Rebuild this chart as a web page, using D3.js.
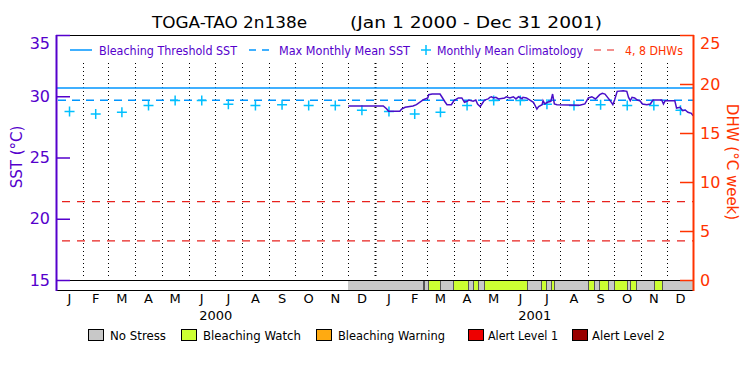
<!DOCTYPE html>
<html>
<head>
<meta charset="utf-8">
<script src="https://cdn.jsdelivr.net/npm/d3@7"></script>
<style>
body { margin: 0; background: #fff; }
svg text { font-family: "DejaVu Sans", sans-serif; }
</style>
</head>
<body>
<svg id="chart" width="750" height="375"></svg>
<script>
// values
const monthLetters = ["J","F","M","A","M","J","J","A","S","O","N","D"];
const yearLabels = ["2000", "2001"];
const climatology = [28.75, 28.55, 28.7, 29.25, 29.65, 29.65, 29.35, 29.25, 29.3, 29.25, 29.25, 28.85];
const mmmSST = 29.67;
const thresholdSST = 30.67;
const dhwLevels = [4, 8];

const sstDates = ["2000-12-01","2001-01-10","2001-01-14","2001-01-16","2001-01-29","2001-01-31","2001-02-04",
  "2001-02-13","2001-02-17","2001-02-25","2001-03-02","2001-03-03","2001-03-07","2001-03-16","2001-03-18",
  "2001-03-22","2001-03-24","2001-03-29","2001-04-01","2001-04-06","2001-04-10","2001-04-13","2001-04-16",
  "2001-04-18","2001-04-23","2001-04-26","2001-04-28","2001-05-01","2001-05-03","2001-05-06","2001-05-10",
  "2001-05-12","2001-05-14","2001-05-16","2001-05-19","2001-05-22","2001-05-29","2001-05-31","2001-06-04",
  "2001-06-08","2001-06-11","2001-06-14","2001-06-18","2001-06-19","2001-06-23","2001-07-01","2001-07-05",
  "2001-07-07","2001-07-11","2001-07-12","2001-07-14","2001-07-17","2001-07-21","2001-07-23","2001-07-25",
  "2001-07-28","2001-08-23","2001-08-29","2001-09-02","2001-09-06","2001-09-10","2001-09-12","2001-09-15",
  "2001-09-18","2001-09-21","2001-09-24","2001-09-27","2001-09-30","2001-10-02","2001-10-05","2001-10-12",
  "2001-10-16","2001-10-18","2001-10-20","2001-10-22","2001-10-25","2001-10-28","2001-10-31","2001-11-03",
  "2001-11-08","2001-11-12","2001-11-15","2001-11-25","2001-11-27","2001-11-29","2001-12-10","2001-12-12",
  "2001-12-16","2001-12-19","2001-12-22","2001-12-25","2001-12-29","2001-12-31"];
const sstValues = [29.20, 29.20, 28.96, 28.77, 28.77, 28.96, 29.10,
  29.20, 29.31, 29.72, 29.86, 30.13, 30.18, 30.18, 29.96,
  29.51, 29.31, 29.31, 29.64, 29.86, 29.86, 29.51, 29.59,
  29.69, 29.59, 29.69, 29.37, 29.15, 29.37, 29.69, 29.78,
  29.91, 29.96, 29.86, 29.91, 29.78, 29.86, 29.96, 29.86,
  29.96, 29.78, 29.96, 29.80, 29.91, 29.86, 29.51, 28.96,
  29.15, 29.31, 29.64, 29.37, 29.51, 29.59, 30.18, 29.37,
  29.31, 29.26, 29.37, 29.86, 29.96, 29.78, 29.91, 30.13,
  30.24, 30.18, 29.91, 29.64, 29.31, 29.69, 30.40, 30.45,
  30.40, 29.91, 29.64, 29.91, 29.86, 29.69, 29.64, 29.37,
  29.31, 29.37, 29.69, 29.69, 29.37, 29.64, 29.64, 29.04,
  29.10, 28.82, 28.88, 28.69, 28.61, 28.41];

const stressBreaks = ["2000-12-01","2001-02-24","2001-02-26","2001-03-02","2001-03-16","2001-03-31",
  "2001-04-17","2001-04-23","2001-04-28","2001-05-05","2001-06-24","2001-07-10","2001-07-15","2001-07-21",
  "2001-07-25","2001-09-02","2001-09-08","2001-09-14","2001-09-24","2001-10-01","2001-10-16","2001-10-20",
  "2001-10-26","2001-11-16","2001-11-25","2002-01-01"];
const stressLevels = [0,1,0,1,0,1,0,1,0,1,0,1,0,1,0,1,0,1,0,1,0,1,0,1,0];
const stressNames = ["No Stress", "Bleaching Watch", "Bleaching Warning", "Alert Level 1", "Alert Level 2"];

const purple = "#5500cc", red = "#ff3300", blue = "#0096ff", cyan = "#00c0ff";
const stressColor = d3.scaleOrdinal().domain([0,1,2,3,4])
    .range(["#c8c8c8", "#ccff33", "#ffaa11", "#ee0000", "#990000"]);

const parse = d3.timeParse("%Y-%m-%d");
const svg = d3.select("#chart");

const x = d3.scaleTime().domain([new Date(2000,0,1), new Date(2002,0,1)]).range([56, 694]);
const ySST = d3.scaleLinear().domain([15, 35]).range([280, 35]);
const yDHW = d3.scaleLinear().domain([0, 25]).range([280, 35]);

// title
svg.append("text").attr("x", 152).attr("y", 28).attr("font-size", 16)
    .attr("textLength", 155).attr("lengthAdjust", "spacingAndGlyphs").text("TOGA-TAO 2n138e");
svg.append("text").attr("x", 350).attr("y", 28).attr("font-size", 16)
    .attr("textLength", 252).attr("lengthAdjust", "spacingAndGlyphs").text("(Jan 1 2000 - Dec 31 2001)");

// stress bar
const segs = stressLevels.map((lv, i) => ({ s: parse(stressBreaks[i]), e: parse(stressBreaks[i+1]), lv }));
svg.append("g").selectAll("rect").data(segs).join("rect")
    .attr("x", d => x(d.s)).attr("width", d => x(d.e) - x(d.s))
    .attr("y", 280).attr("height", 10)
    .attr("fill", d => stressColor(d.lv))
    .attr("shape-rendering", "crispEdges");
svg.append("g").selectAll("line").data(stressBreaks.slice(1, -1)).join("line")
    .attr("x1", d => Math.round(x(parse(d))) + 0.5).attr("x2", d => Math.round(x(parse(d))) + 0.5)
    .attr("y1", 280).attr("y2", 290).attr("stroke", "#555").attr("stroke-width", 1);

// month dividers
const monthStarts = d3.timeMonth.range(new Date(2000,1,1), new Date(2002,0,1));
svg.append("g").selectAll("line").data(monthStarts).join("line")
    .attr("x1", d => Math.round(x(d)) + 0.5).attr("x2", d => Math.round(x(d)) + 0.5)
    .attr("y1", 63).attr("y2", 278)
    .attr("stroke", "#000")
    .attr("stroke-width", d => d.getMonth() === 0 ? 2 : 1)
    .attr("stroke-dasharray", "1,3");

// frame lines
[35, 280, 290].forEach(yy => {
  svg.append("line").attr("x1", 56).attr("x2", 694).attr("y1", yy + 0.5).attr("y2", yy + 0.5)
      .attr("stroke", "#000").attr("stroke-width", 1.2);
});

// reference lines
svg.append("line").attr("x1", 56).attr("x2", 694)
    .attr("y1", ySST(thresholdSST)).attr("y2", ySST(thresholdSST))
    .attr("stroke", blue).attr("stroke-width", 1.5);
svg.append("line").attr("x1", 58).attr("x2", 694)
    .attr("y1", ySST(mmmSST)).attr("y2", ySST(mmmSST))
    .attr("stroke", blue).attr("stroke-width", 1.5).attr("stroke-dasharray", "8,6");
svg.append("g").selectAll("line").data(dhwLevels).join("line")
    .attr("x1", 62).attr("x2", 694)
    .attr("y1", d => yDHW(d)).attr("y2", d => yDHW(d))
    .attr("stroke", "#e8221e").attr("stroke-width", 1.2).attr("stroke-dasharray", "8,7");

// climatology crosses, both years
const climPts = [];
[2000, 2001].forEach(yr => climatology.forEach((v, m) => {
  const s = new Date(yr, m, 1), e = new Date(yr, m + 1, 1);
  climPts.push({ date: new Date((+s + +e) / 2), v });
}));
const cross = svg.append("g").attr("stroke", cyan).attr("stroke-width", 1.5);
cross.selectAll("path").data(climPts).join("path")
    .attr("d", d => {
      const cx = x(d.date), cy = ySST(d.v);
      return `M${cx-5},${cy}H${cx+5}M${cx},${cy-5}V${cy+5}`;
    });

// SST line
const sst = sstDates.map((d, i) => ({ date: parse(d), v: sstValues[i] }));
svg.append("path").datum(sst)
    .attr("fill", "none").attr("stroke", "#4a0fc8").attr("stroke-width", 1.5)
    .attr("d", d3.line().x(d => x(d.date)).y(d => ySST(d.v)));

// left axis
const gL = svg.append("g").attr("transform", "translate(56,0)");
gL.call(d3.axisLeft(ySST).tickValues(d3.range(15, 36)).tickSize(-7).tickSizeOuter(0).tickFormat(""));
gL.call(d3.axisLeft(ySST).tickValues([15,20,25,30,35]).tickSize(-14).tickSizeOuter(0).tickPadding(6));
gL.selectAll(".domain").remove();
gL.selectAll("line").attr("stroke", purple).attr("stroke-width", 1.5);
gL.selectAll("text").attr("fill", purple).attr("font-size", 16).attr("font-family", "DejaVu Sans")
    .filter(d => d === 35).attr("dy", "0.85em");
svg.append("line").attr("x1", 56.5).attr("x2", 56.5).attr("y1", 35).attr("y2", 291)
    .attr("stroke", purple).attr("stroke-width", 2);
svg.append("text").attr("transform", "translate(22,157) rotate(-90)")
    .attr("text-anchor", "middle").attr("font-size", 15).attr("fill", purple).text("SST (°C)");

// right axis
const gR = svg.append("g").attr("transform", "translate(694,0)");
gR.call(d3.axisRight(yDHW).tickValues(d3.range(0, 26)).tickSize(-7).tickSizeOuter(0).tickFormat(""));
gR.call(d3.axisRight(yDHW).tickValues([0,5,10,15,20,25]).tickSize(-14).tickSizeOuter(0).tickPadding(6));
gR.selectAll(".domain").remove();
gR.selectAll("line").attr("stroke", red).attr("stroke-width", 1.5);
gR.selectAll("text").attr("fill", red).attr("font-size", 16).attr("font-family", "DejaVu Sans")
    .filter(d => d === 25).attr("dy", "0.85em");
svg.append("line").attr("x1", 693.5).attr("x2", 693.5).attr("y1", 35).attr("y2", 291)
    .attr("stroke", red).attr("stroke-width", 2);
svg.append("text").attr("transform", "translate(727,162) rotate(90)")
    .attr("text-anchor", "middle").attr("font-size", 15).attr("fill", red).text("DHW (°C week)");

// month and year labels
const allMonths = d3.timeMonth.range(new Date(2000,0,1), new Date(2002,0,1));
svg.append("g").selectAll("text").data(allMonths).join("text")
    .attr("x", d => (x(d) + x(d3.timeMonth.offset(d, 1))) / 2)
    .attr("y", 303).attr("text-anchor", "middle").attr("font-size", 13)
    .text(d => monthLetters[d.getMonth()]);
svg.append("g").selectAll("text").data(yearLabels).join("text")
    .attr("x", d => (x(new Date(+d, 0, 1)) + x(new Date(+d + 1, 0, 1))) / 2)
    .attr("y", 320).attr("text-anchor", "middle").attr("font-size", 13)
    .text(d => d);

// top legend
const lg = svg.append("g");
lg.append("line").attr("x1", 70).attr("x2", 92).attr("y1", 50).attr("y2", 50).attr("stroke", blue).attr("stroke-width", 1.5);
lg.append("line").attr("x1", 249).attr("x2", 273).attr("y1", 50).attr("y2", 50).attr("stroke", blue)
    .attr("stroke-width", 1.5).attr("stroke-dasharray", "7,6");
lg.append("path").attr("d", "M421,50H431M426,45V55").attr("stroke", cyan).attr("stroke-width", 1.5);
lg.append("line").attr("x1", 594).attr("x2", 618).attr("y1", 50).attr("y2", 50).attr("stroke", "#e8221e")
    .attr("stroke-width", 1.2).attr("stroke-dasharray", "7,6");
const legTexts = [
  { t: "Bleaching Threshold SST", x: 99, w: 138, c: purple },
  { t: "Max Monthly Mean SST", x: 279, w: 131, c: purple },
  { t: "Monthly Mean Climatology", x: 437, w: 146, c: purple },
  { t: "4, 8 DHWs", x: 625, w: 58, c: red }
];
lg.selectAll("text").data(legTexts).join("text")
    .attr("x", d => d.x).attr("y", 55).attr("font-size", 12)
    .attr("textLength", d => d.w).attr("lengthAdjust", "spacingAndGlyphs")
    .attr("fill", d => d.c).text(d => d.t);

// stress legend
const boxX = [88, 181, 316, 468, 572];
const textW = [56, 98, 107, 70, 73];
const sl = svg.append("g").selectAll("g").data(stressNames).join("g")
    .attr("transform", (d, i) => `translate(${boxX[i]},329)`);
sl.append("rect").attr("x", 0.5).attr("y", 0.5).attr("width", 15).attr("height", 11)
    .attr("fill", (d, i) => stressColor(i)).attr("stroke", "#000");
sl.append("text").attr("x", (d, i) => i === 3 || i === 4 ? 20 : 22).attr("y", 11).attr("font-size", 12)
    .attr("textLength", (d, i) => textW[i]).attr("lengthAdjust", "spacingAndGlyphs")
    .text(d => d);
</script>
</body>
</html>
